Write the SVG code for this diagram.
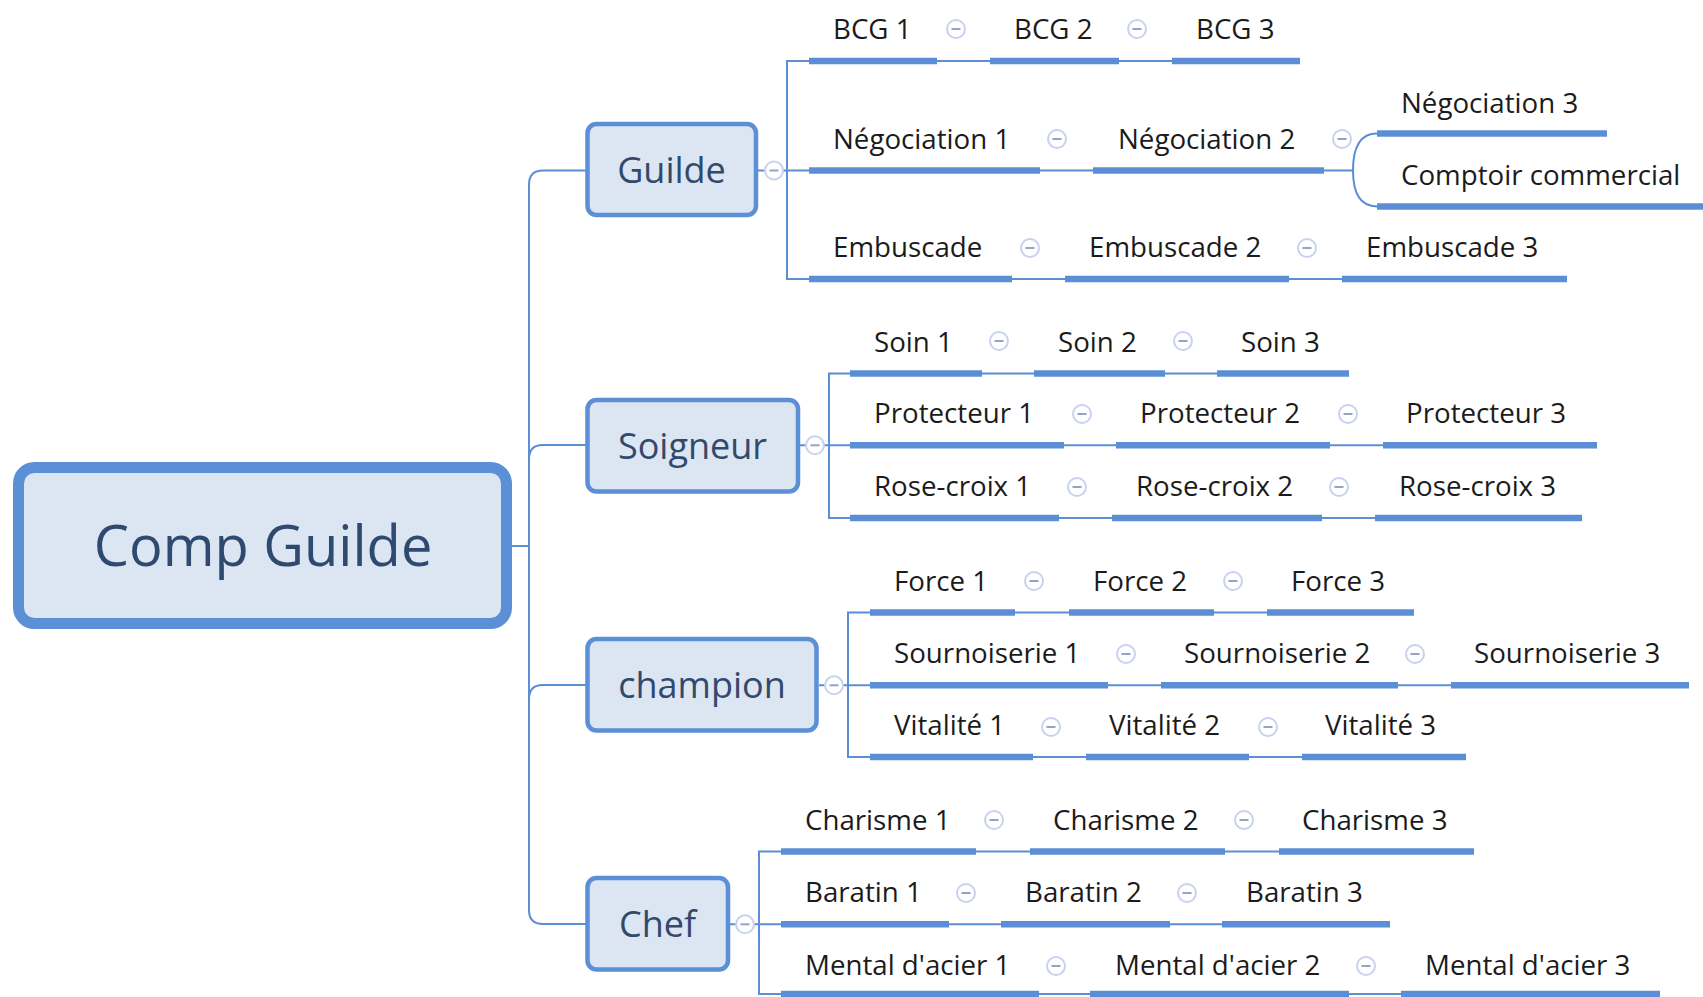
<svg xmlns="http://www.w3.org/2000/svg" width="1703" height="997" viewBox="0 0 1703 997">
<defs>
<style>
.bg{fill:#ffffff}
.conn{fill:none;stroke:#5b8ed5;stroke-width:2}
.bar{stroke:#5b8ed5;stroke-width:6.5}
.leaf text{font-family:"Open Sans","Liberation Sans",sans-serif;font-size:27.7px;fill:#1b1b1b}
.box{fill:#dce5f2;stroke:#5b8fd6;stroke-width:4.5}
.branch text{font-family:"Open Sans","Liberation Sans",sans-serif;font-size:36px;fill:#33496b;text-anchor:middle}
.root rect{fill:#dce5f2;stroke:#5b8fd6;stroke-width:11}
.root text{font-family:"Open Sans","Liberation Sans",sans-serif;font-size:56px;fill:#2f4a70;text-anchor:middle}
.tg circle{fill:#ffffff;stroke:#c9d1f0;stroke-width:2}
.tg line{stroke:#97a3c6;stroke-width:2}
</style>
<g id="toggle" class="tg"><circle cx="0" cy="0" r="9"/><line x1="-4.5" y1="0" x2="4.5" y2="0"/></g>
</defs>
<rect class="bg" x="0" y="0" width="1703" height="997"/>

<g id="connectors">
<path class="conn" d="M510 546 H529 M586 170.5 H543 Q529 170.5 529 184.5 V910 Q529 924 543 924 H586 M529 459 Q529 445 543 445 H586 M529 699 Q529 685 543 685 H586"/>
<path class="conn" d="M758 170.5 H809 M809 61 H787 V279 H809 M937 61 H990 M1119 61 H1172 M1040 170.5 H1093 M1324 170.5 H1353 M1353 170.5 C1353 145 1362 133.6 1377 133.6 M1353 170.5 C1353 196 1362 206.4 1377 206.4 M1012 279 H1065 M1289 279 H1342"/>
<path class="conn" d="M800 445.3 H850 M850 373.6 H829 V518 H850 M982 373.6 H1034 M1165 373.6 H1217 M1064 445.3 H1116 M1330 445.3 H1383 M1059 518 H1112 M1322 518 H1375"/>
<path class="conn" d="M819 685.3 H870 M870 612.5 H848 V757 H870 M1015 612.5 H1069 M1214 612.5 H1267 M1108 685.3 H1161 M1398 685.3 H1451 M1033 757 H1086 M1249 757 H1302"/>
<path class="conn" d="M730 924.3 H781 M781 851.5 H759 V994 H781 M976 851.5 H1030 M1225 851.5 H1279 M949 924.3 H1001 M1170 924.3 H1222 M1039 994 H1090 M1349 994 H1401"/>
</g>

<g id="root" class="root"><rect x="18.5" y="467.5" width="488" height="156" rx="16"/><text x="263" y="566">Comp Guilde</text></g>

<g id="guilde" class="branch"><rect class="box" x="587.5" y="124" width="168.5" height="91" rx="9"/><text x="671.5" y="182.5">Guilde</text><use href="#toggle" x="774" y="170.5"/></g>
<g id="soigneur" class="branch"><rect class="box" x="587.5" y="400" width="210.5" height="91.5" rx="9"/><text x="692.5" y="458.5">Soigneur</text><use href="#toggle" x="815" y="445.3"/></g>
<g id="champion" class="branch"><rect class="box" x="587.5" y="639" width="229" height="91.5" rx="9"/><text x="702" y="698">champion</text><use href="#toggle" x="834" y="685.3"/></g>
<g id="chef" class="branch"><rect class="box" x="587.5" y="878" width="140.5" height="91.5" rx="9"/><text x="657.5" y="937">Chef</text><use href="#toggle" x="745" y="924.3"/></g>

<g id="bcg1" class="leaf"><line class="bar" x1="809" y1="61" x2="937" y2="61"/><text x="833" y="39">BCG 1</text><use href="#toggle" x="956" y="29"/></g>
<g id="bcg2" class="leaf"><line class="bar" x1="990" y1="61" x2="1119" y2="61"/><text x="1014" y="39">BCG 2</text><use href="#toggle" x="1137" y="29"/></g>
<g id="bcg3" class="leaf"><line class="bar" x1="1172" y1="61" x2="1300" y2="61"/><text x="1196" y="39">BCG 3</text></g>

<g id="neg1" class="leaf"><line class="bar" x1="809" y1="170.5" x2="1040" y2="170.5"/><text x="833" y="148.5">Négociation 1</text><use href="#toggle" x="1057" y="139"/></g>
<g id="neg2" class="leaf"><line class="bar" x1="1093" y1="170.5" x2="1324" y2="170.5"/><text x="1118" y="148.5">Négociation 2</text><use href="#toggle" x="1342" y="139"/></g>
<g id="neg3" class="leaf"><line class="bar" x1="1377" y1="133.6" x2="1607" y2="133.6"/><text x="1401" y="112.5">Négociation 3</text></g>
<g id="comptoir" class="leaf"><line class="bar" x1="1377" y1="206.4" x2="1703" y2="206.4"/><text x="1401" y="184.5">Comptoir commercial</text></g>

<g id="emb1" class="leaf"><line class="bar" x1="809" y1="279" x2="1012" y2="279"/><text x="833" y="257">Embuscade</text><use href="#toggle" x="1030" y="248"/></g>
<g id="emb2" class="leaf"><line class="bar" x1="1065" y1="279" x2="1289" y2="279"/><text x="1089" y="257">Embuscade 2</text><use href="#toggle" x="1307" y="248"/></g>
<g id="emb3" class="leaf"><line class="bar" x1="1342" y1="279" x2="1567" y2="279"/><text x="1366" y="257">Embuscade 3</text></g>

<g id="soin1" class="leaf"><line class="bar" x1="850" y1="373.6" x2="982" y2="373.6"/><text x="874" y="351.6">Soin 1</text><use href="#toggle" x="999" y="341"/></g>
<g id="soin2" class="leaf"><line class="bar" x1="1034" y1="373.6" x2="1165" y2="373.6"/><text x="1058" y="351.6">Soin 2</text><use href="#toggle" x="1183" y="341"/></g>
<g id="soin3" class="leaf"><line class="bar" x1="1217" y1="373.6" x2="1349" y2="373.6"/><text x="1241" y="351.6">Soin 3</text></g>

<g id="prot1" class="leaf"><line class="bar" x1="850" y1="445.3" x2="1064" y2="445.3"/><text x="874" y="423.3">Protecteur 1</text><use href="#toggle" x="1082" y="414"/></g>
<g id="prot2" class="leaf"><line class="bar" x1="1116" y1="445.3" x2="1330" y2="445.3"/><text x="1140" y="423.3">Protecteur 2</text><use href="#toggle" x="1348" y="414"/></g>
<g id="prot3" class="leaf"><line class="bar" x1="1383" y1="445.3" x2="1597" y2="445.3"/><text x="1406" y="423.3">Protecteur 3</text></g>

<g id="rose1" class="leaf"><line class="bar" x1="850" y1="518" x2="1059" y2="518"/><text x="874" y="496">Rose-croix 1</text><use href="#toggle" x="1077" y="487"/></g>
<g id="rose2" class="leaf"><line class="bar" x1="1112" y1="518" x2="1322" y2="518"/><text x="1136" y="496">Rose-croix 2</text><use href="#toggle" x="1339" y="487"/></g>
<g id="rose3" class="leaf"><line class="bar" x1="1375" y1="518" x2="1582" y2="518"/><text x="1399" y="496">Rose-croix 3</text></g>

<g id="force1" class="leaf"><line class="bar" x1="870" y1="612.5" x2="1015" y2="612.5"/><text x="894" y="590.5">Force 1</text><use href="#toggle" x="1034" y="581"/></g>
<g id="force2" class="leaf"><line class="bar" x1="1069" y1="612.5" x2="1214" y2="612.5"/><text x="1093" y="590.5">Force 2</text><use href="#toggle" x="1233" y="581"/></g>
<g id="force3" class="leaf"><line class="bar" x1="1267" y1="612.5" x2="1414" y2="612.5"/><text x="1291" y="590.5">Force 3</text></g>

<g id="sourn1" class="leaf"><line class="bar" x1="870" y1="685.3" x2="1108" y2="685.3"/><text x="894" y="663.3">Sournoiserie 1</text><use href="#toggle" x="1126" y="654"/></g>
<g id="sourn2" class="leaf"><line class="bar" x1="1161" y1="685.3" x2="1398" y2="685.3"/><text x="1184" y="663.3">Sournoiserie 2</text><use href="#toggle" x="1415" y="654"/></g>
<g id="sourn3" class="leaf"><line class="bar" x1="1451" y1="685.3" x2="1689" y2="685.3"/><text x="1474" y="663.3">Sournoiserie 3</text></g>

<g id="vita1" class="leaf"><line class="bar" x1="870" y1="757" x2="1033" y2="757"/><text x="894" y="735">Vitalité 1</text><use href="#toggle" x="1051" y="727"/></g>
<g id="vita2" class="leaf"><line class="bar" x1="1086" y1="757" x2="1249" y2="757"/><text x="1109" y="735">Vitalité 2</text><use href="#toggle" x="1268" y="727"/></g>
<g id="vita3" class="leaf"><line class="bar" x1="1302" y1="757" x2="1466" y2="757"/><text x="1325" y="735">Vitalité 3</text></g>

<g id="char1" class="leaf"><line class="bar" x1="781" y1="851.5" x2="976" y2="851.5"/><text x="805" y="829.5">Charisme 1</text><use href="#toggle" x="994" y="820"/></g>
<g id="char2" class="leaf"><line class="bar" x1="1030" y1="851.5" x2="1225" y2="851.5"/><text x="1053" y="829.5">Charisme 2</text><use href="#toggle" x="1244" y="820"/></g>
<g id="char3" class="leaf"><line class="bar" x1="1279" y1="851.5" x2="1474" y2="851.5"/><text x="1302" y="829.5">Charisme 3</text></g>

<g id="bara1" class="leaf"><line class="bar" x1="781" y1="924.3" x2="949" y2="924.3"/><text x="805" y="902.3">Baratin 1</text><use href="#toggle" x="966" y="893"/></g>
<g id="bara2" class="leaf"><line class="bar" x1="1001" y1="924.3" x2="1170" y2="924.3"/><text x="1025" y="902.3">Baratin 2</text><use href="#toggle" x="1187" y="893"/></g>
<g id="bara3" class="leaf"><line class="bar" x1="1222" y1="924.3" x2="1390" y2="924.3"/><text x="1246" y="902.3">Baratin 3</text></g>

<g id="ment1" class="leaf"><line class="bar" x1="781" y1="994" x2="1039" y2="994"/><text x="805" y="975">Mental d'acier 1</text><use href="#toggle" x="1056" y="966"/></g>
<g id="ment2" class="leaf"><line class="bar" x1="1090" y1="994" x2="1349" y2="994"/><text x="1115" y="975">Mental d'acier 2</text><use href="#toggle" x="1366" y="966"/></g>
<g id="ment3" class="leaf"><line class="bar" x1="1401" y1="994" x2="1660" y2="994"/><text x="1425" y="975">Mental d'acier 3</text></g>
</svg>
